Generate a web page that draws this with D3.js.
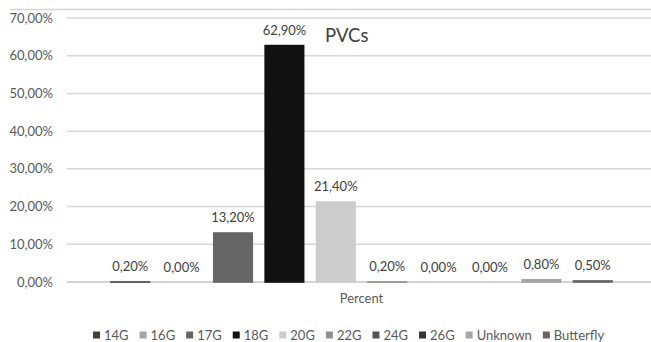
<!DOCTYPE html>
<html><head><meta charset="utf-8">
<script src="https://cdn.jsdelivr.net/npm/d3@7"></script>
<style>body{margin:0;background:#fff}svg{display:block}text{font-family:Lato,"Open Sans",sans-serif}</style>
</head><body>
<svg id="c" width="651" height="342"></svg>
<script>
const categories = ["Percent"];
const seriesNames = ["14G","16G","17G","18G","20G","22G","24G","26G","Unknown","Butterfly"];
const seriesValues = [0.002, 0.0, 0.132, 0.629, 0.214, 0.002, 0.0, 0.0, 0.008, 0.005];
const seriesColors = ["#404040","#a5a5a5","#666666","#111111","#cdcdcd","#8f8f8f","#555555","#333333","#a5a5a5","#666666"];
const yTicks = [0, 0.1, 0.2, 0.3, 0.4, 0.5, 0.6, 0.7];
const title = "PVCs";

const svg = d3.select("#c");
const fmt = v => (v*100).toFixed(2).replace(".", ",") + "%";

const plotL = 67, plotR = 656, gridR = 651;
const y = d3.scaleLinear().domain([0, 0.7]).range([282, 18]);
const x0 = d3.scaleBand().domain(categories).range([plotL, plotR]).paddingInner(0).paddingOuter(0.073);
const x1 = d3.scaleBand().domain(seriesNames).range([0, x0.bandwidth()]).paddingInner(0.22).paddingOuter(0.11);

// frame line at top
svg.append("line").attr("x1", 10).attr("x2", gridR).attr("y1", 9.5).attr("y2", 9.5)
  .attr("stroke", "#d4d4d4").attr("stroke-width", 1.5);

// gridlines
svg.append("g").selectAll("line").data(yTicks).join("line")
  .attr("x1", plotL).attr("x2", gridR)
  .attr("y1", d => y(d)).attr("y2", d => y(d))
  .attr("stroke", d => d === 0 ? "#c4c4c4" : "#d6d6d6").attr("stroke-width", 1.5);

// y tick labels
svg.append("g").selectAll("text").data(yTicks).join("text")
  .attr("x", 53).attr("y", d => y(d)).attr("dy", "0.35em")
  .attr("text-anchor", "end").attr("font-size", 13).attr("fill", "#595959")
  .text(fmt);

// bars
const data = seriesNames.map((s, i) => ({s, v: seriesValues[i], c: seriesColors[i]}));
const g = svg.append("g").attr("transform", `translate(${x0("Percent")},0)`);
g.selectAll("rect").data(data).join("rect")
  .attr("x", d => x1(d.s)).attr("width", x1.bandwidth())
  .attr("y", d => y(d.v)).attr("height", d => Math.max(0, y(0) - y(d.v) + (d.v > 0 ? 0.8 : 0)))
  .attr("fill", d => d.c);
g.selectAll("text").data(data).join("text")
  .attr("x", d => x1(d.s) + x1.bandwidth()/2).attr("y", d => y(d.v) - 10)
  .attr("text-anchor", "middle").attr("font-size", 13).attr("fill", "#404040")
  .text(d => fmt(d.v));

// category label
svg.append("text").attr("x", x0("Percent") + x0.bandwidth()/2).attr("y", 303)
  .attr("text-anchor", "middle").attr("font-size", 13).attr("fill", "#595959").text(categories[0]);

// title
svg.append("text").attr("x", 325).attr("y", 42).attr("font-size", 18.5).attr("fill", "#404040").text(title);

// legend
const lg = svg.append("g");
let lx = 93;
data.forEach(d => {
  lg.append("rect").attr("x", lx).attr("y", 331.5).attr("width", 7).attr("height", 7).attr("fill", d.c);
  const t = lg.append("text").attr("x", lx + 11).attr("y", 339.5).attr("font-size", 13).attr("fill", "#595959").text(d.s);
  lx += 11 + t.node().getComputedTextLength() + 11;
});
</script>
</body></html>
